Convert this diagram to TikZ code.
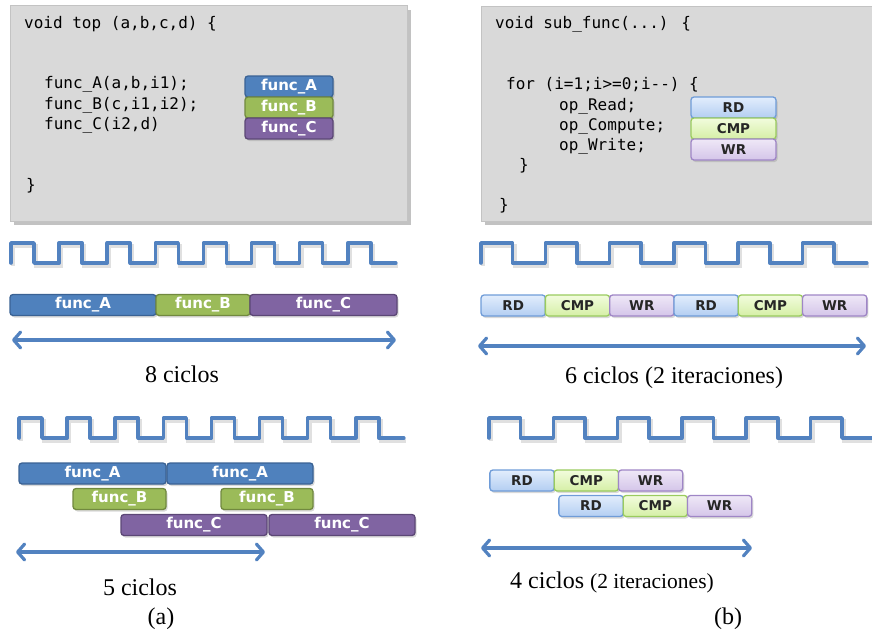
\documentclass[tikz,border=0pt]{standalone}
\usepackage{fontspec}
\setmainfont{Liberation Serif}
\newfontfamily\codefont{DejaVu Sans Mono}
\newfontfamily\blockfont{DejaVu Sans}
\usetikzlibrary{positioning,shadows,arrows.meta}

\definecolor{panelgray}{HTML}{D9D9D9}
\definecolor{panelline}{HTML}{C3C3C3}
\definecolor{clkblue}{HTML}{5282C0}
\definecolor{fAfill}{HTML}{4F81BD}
\definecolor{fAline}{HTML}{3A6294}
\definecolor{fBfill}{HTML}{9BBB59}
\definecolor{fBline}{HTML}{71893F}
\definecolor{fCfill}{HTML}{8064A2}
\definecolor{fCline}{HTML}{5C4776}
\definecolor{rdtop}{HTML}{E2EDFC}
\definecolor{rdbot}{HTML}{B3CEF2}
\definecolor{rdline}{HTML}{6F9CD8}
\definecolor{cmptop}{HTML}{F2FCDD}
\definecolor{cmpbot}{HTML}{D5EFA6}
\definecolor{cmpline}{HTML}{9ACB5E}
\definecolor{wrtop}{HTML}{EFE8F7}
\definecolor{wrbot}{HTML}{D4C5E9}
\definecolor{wrline}{HTML}{9F86C6}

\tikzset{
  codebox/.style={fill=panelgray, draw=panelline, line width=1pt,
    drop shadow={shadow xshift=4pt, shadow yshift=-4pt, fill=black!40, opacity=.6}},
  codeline/.style={anchor=west, inner sep=0pt, text=black,
    font=\codefont\fontsize{16}{18}\selectfont},
  blk/.style={rounded corners=3pt, line width=1.3pt, inner sep=0pt, outer sep=0pt,
    minimum height=21pt,
    drop shadow={shadow xshift=1.5pt, shadow yshift=-2pt, opacity=.3}},
  fn/.style={blk, text=white, font=\blockfont\bfseries\fontsize{15}{17}\selectfont},
  fA/.style={fn, fill=fAfill, draw=fAline},
  fB/.style={fn, fill=fBfill, draw=fBline},
  fC/.style={fn, fill=fCfill, draw=fCline},
  op/.style={blk, text=black!85, minimum width=64.3pt,
    font=\blockfont\bfseries\fontsize{13.5}{16}\selectfont},
  rd/.style={op, top color=rdtop, bottom color=rdbot, draw=rdline},
  cmp/.style={op, top color=cmptop, bottom color=cmpbot, draw=cmpline},
  wr/.style={op, top color=wrtop, bottom color=wrbot, draw=wrline},
  clk/.style={draw=clkblue, line width=3.6pt, line join=round, line cap=round,
    preaction={draw=black!40, line width=4pt, opacity=.3,
      transform canvas={xshift=2pt, yshift=-3pt}}},
  span/.style={draw=clkblue, line width=3.2pt,
    {Straight Barb[length=7pt,width=16pt,round]}-{Straight Barb[length=7pt,width=16pt,round]}},
  lbl/.style={inner sep=0pt, font=\fontsize{24}{28}\selectfont}
}

\begin{document}
\begin{tikzpicture}[x=1pt, y=-1pt]

\useasboundingbox (0,0) rectangle (872,634);
\clip (0,0) rectangle (872,634);

% code panels
\draw[codebox] (10,6) rectangle (407,221);
\draw[codebox] (481,7) rectangle (885,221);

\node[codeline] (topsig) at (24,24) {void top (a,b,c,d) \{};
\node[codeline] (callA) at (44,84) {func\_A(a,b,i1);};
\node[codeline] (callB) at (44,105) {func\_B(c,i1,i2);};
\node[codeline] (callC) at (44,125) {func\_C(i2,d)};
\node[codeline] (topend) at (26,186) {\}};

\node[codeline] (subsig) at (495,24) {void sub\_func(...) \{};
\node[codeline] (loop) at (506,85) {for (i=1;i>=0;i-{}-) \{};
\node[codeline] (opR) at (559,106) {op\_Read;};
\node[codeline] (opC) at (559,126) {op\_Compute;};
\node[codeline] (opW) at (559,146) {op\_Write;};
\node[codeline] (loopend) at (519,166) {\}};
\node[codeline] (subend) at (499,206) {\}};

% legend stacks
\node[fA, minimum width=88pt] (legA) at (289,86.5) {func\_A};
\node[fB, minimum width=88pt, below=0pt of legA] (legB) {func\_B};
\node[fC, minimum width=88pt, below=0pt of legB] (legC) {func\_C};

\node[rd, minimum width=85pt] (legR) at (733.5,107.5) {RD};
\node[cmp, minimum width=85pt, below=0pt of legR] (legM) {CMP};
\node[wr, minimum width=85pt, below=0pt of legM] (legW) {WR};

% clocks
\draw[clk] (11,263) \foreach \k in {1,...,8} {-- ++(0,-20) -- ++(23,0) -- ++(0,20) -- ++(25.1,0)};
\draw[clk] (19,438) \foreach \k in {1,...,8} {-- ++(0,-20) -- ++(23,0) -- ++(0,20) -- ++(25.1,0)};
\draw[clk] (481,263) \foreach \k in {1,...,6} {-- ++(0,-20) -- ++(31.5,0) -- ++(0,20) -- ++(32.8,0)};
\draw[clk] (489,438) \foreach \k in {1,...,5} {-- ++(0,-20) -- ++(31.5,0) -- ++(0,20) -- ++(32.8,0)}
  -- ++(0,-20) -- ++(31.5,0) -- ++(0,20) -- (874,438);

% sequential schedules
\node[fA, minimum width=146pt] (sA) at (83,305) {func\_A};
\node[fB, minimum width=94pt, right=0pt of sA] (sB) {func\_B};
\node[fC, minimum width=147pt, right=0pt of sB] (sC) {func\_C};

\node[rd] (r1) at (513.2,305.5) {RD};
\node[cmp, right=0pt of r1] (m1) {CMP};
\node[wr, right=0pt of m1] (w1) {WR};
\node[rd, right=0pt of w1] (r2) {RD};
\node[cmp, right=0pt of r2] (m2) {CMP};
\node[wr, right=0pt of m2] (w2) {WR};

% pipelined schedules
\node[fA, minimum width=147pt] (pA1) at (92.5,473.5) {func\_A};
\node[fA, minimum width=146pt] (pA2) at (240,473.5) {func\_A};
\node[fB, minimum width=93pt] (pB1) at (119.5,499) {func\_B};
\node[fB, minimum width=92pt] (pB2) at (267,499) {func\_B};
\node[fC, minimum width=146pt] (pC1) at (194,525) {func\_C};
\node[fC, minimum width=146pt] (pC2) at (342,525) {func\_C};

\node[rd] (pr1) at (522,480.5) {RD};
\node[cmp, right=0pt of pr1] (pm1) {CMP};
\node[wr, right=0pt of pm1] (pw1) {WR};
\node[rd] (pr2) at (591,506) {RD};
\node[cmp, right=0pt of pr2] (pm2) {CMP};
\node[wr, right=0pt of pm2] (pw2) {WR};

% spans
\coordinate (seqAl) at (12,340);
\coordinate (seqAr) at (396,340);
\coordinate (seqBl) at (478,346);
\coordinate (seqBr) at (866,346);
\coordinate (pipAl) at (16,552);
\coordinate (pipAr) at (265,552);
\coordinate (pipBl) at (481,548);
\coordinate (pipBr) at (752,548);
\draw[span] (seqAl) -- (seqAr);
\draw[span] (seqBl) -- (seqBr);
\draw[span] (pipAl) -- (pipAr);
\draw[span] (pipBl) -- (pipBr);

% labels
\node[lbl] (cyc8) at (182,374) {8 ciclos};
\node[lbl] (cyc6) at (674,378) {6 ciclos (2 iteraciones)};
\node[lbl] (cyc5) at (140,587) {5 ciclos};
\node[lbl] (cyc4) at (612,582) {4 ciclos {\fontsize{21.5}{26}\selectfont(2 iteraciones)}};
\node[lbl] (capa) at (161,619) {(a)};
\node[lbl] (capb) at (728,619) {(b)};

\end{tikzpicture}
\end{document}
